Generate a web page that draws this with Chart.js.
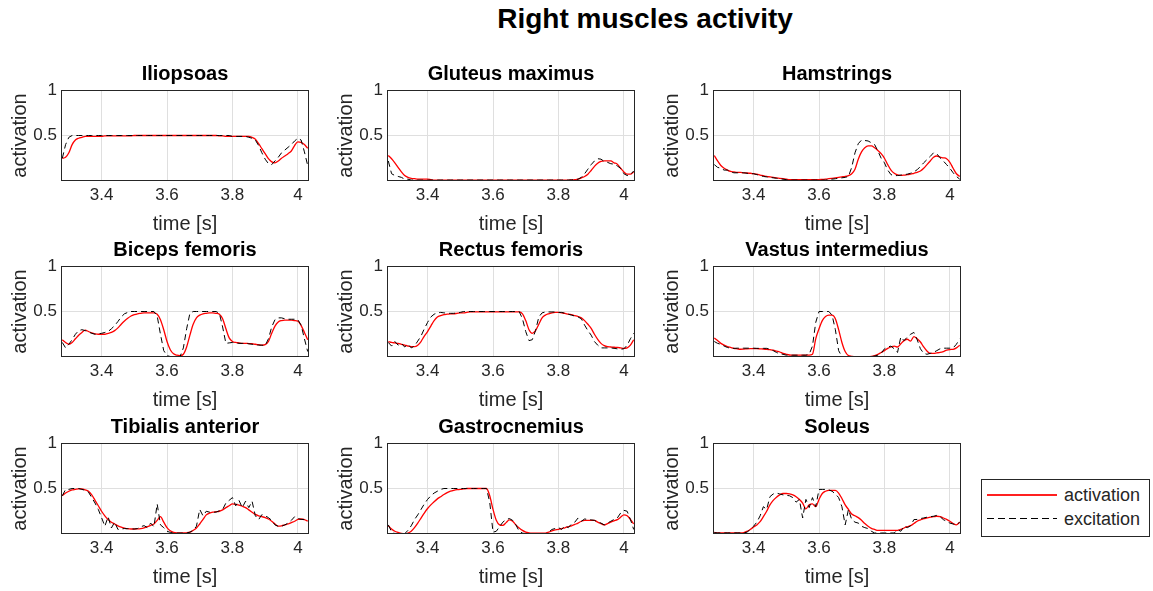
<!DOCTYPE html>
<html>
<head>
<meta charset="utf-8">
<title>Right muscles activity</title>
<script src="https://cdn.jsdelivr.net/npm/chart.js@4.4.0/dist/chart.umd.min.js"></script>
<style>
  html, body { margin: 0; padding: 0; background: #fff; }
  body { width: 1153px; height: 591px; position: relative; overflow: hidden; font-family: "Liberation Sans", Arial, sans-serif; }
  #titulo { position: absolute; left: 395px; width: 500px; top: 2px; text-align: center; font-size: 28px; font-weight: bold; color: #000; line-height: 34px; }
  .panel { position: absolute; display: block; }
  #leyenda { position: absolute; left: 981px; top: 479px; width: 169px; height: 58px; border: 1px solid #262626; box-sizing: border-box; background: #fff; }
  .muestra { position: absolute; left: 5px; width: 70px; }
  .texto { position: absolute; left: 82px; font-size: 18px; color: #262626; line-height: 20px; }
</style>
</head>
<body>
<div id="titulo">Right muscles activity</div>
<div id="graficos"></div>
<div id="leyenda">
  <div class="muestra" style="top: 14px; height: 2px; background: #ff2020;"></div>
  <div class="texto" style="top: 5px;">activation</div>
  <div class="muestra" style="top: 38px; height: 1px; background: repeating-linear-gradient(to right, #000 0 7px, transparent 7px 11px);"></div>
  <div class="texto" style="top: 29px;">excitation</div>
</div>

<script>
// tiempo de muestreo (s)
const tiempo = [
  3.28, 3.29, 3.30, 3.31, 3.32, 3.33, 3.34, 3.35, 3.36, 3.37,
  3.38, 3.39, 3.40, 3.41, 3.42, 3.43, 3.44, 3.45, 3.46, 3.47,
  3.48, 3.49, 3.50, 3.51, 3.52, 3.53, 3.54, 3.55, 3.56, 3.57,
  3.58, 3.59, 3.60, 3.61, 3.62, 3.63, 3.64, 3.65, 3.66, 3.67,
  3.68, 3.69, 3.70, 3.71, 3.72, 3.73, 3.74, 3.75, 3.76, 3.77,
  3.78, 3.79, 3.80, 3.81, 3.82, 3.83, 3.84, 3.85, 3.86, 3.87,
  3.88, 3.89, 3.90, 3.91, 3.92, 3.93, 3.94, 3.95, 3.96, 3.97,
  3.98, 3.99, 4.00, 4.01, 4.02, 4.03
];

const musculos = ["Iliopsoas", "Gluteus maximus", "Hamstrings",
                  "Biceps femoris", "Rectus femoris", "Vastus intermedius",
                  "Tibialis anterior", "Gastrocnemius", "Soleus"];

const ticksX = [3.4, 3.6, 3.8, 4];
const ticksY = [0.5, 1];

// activacion (rojo) y excitacion (negro discontinuo) por musculo
const actIliopsoas = [
  0.25, 0.26, 0.31, 0.40, 0.45, 0.47, 0.48, 0.49, 0.49, 0.49,
  0.49, 0.49, 0.49, 0.495, 0.495, 0.495, 0.495, 0.495, 0.495, 0.495,
  0.495, 0.495, 0.5, 0.5, 0.5, 0.5, 0.5, 0.5, 0.5, 0.5,
  0.5, 0.5, 0.5, 0.5, 0.5, 0.5, 0.5, 0.5, 0.5, 0.5,
  0.5, 0.5, 0.5, 0.5, 0.5, 0.5, 0.5, 0.5, 0.495, 0.495,
  0.49, 0.49, 0.49, 0.49, 0.49, 0.49, 0.49, 0.49, 0.48, 0.46,
  0.41, 0.355, 0.30, 0.245, 0.21, 0.20, 0.22, 0.25, 0.275, 0.30,
  0.33, 0.39, 0.43, 0.425, 0.40, 0.36
];
const excIliopsoas = [
  0.25, 0.40, 0.48, 0.50, 0.50, 0.50, 0.50, 0.50, 0.50, 0.50,
  0.5, 0.5, 0.5, 0.5, 0.5, 0.5, 0.5, 0.5, 0.5, 0.5,
  0.5, 0.5, 0.5, 0.5, 0.5, 0.5, 0.5, 0.5, 0.5, 0.5,
  0.5, 0.5, 0.5, 0.5, 0.5, 0.5, 0.5, 0.5, 0.5, 0.5,
  0.5, 0.5, 0.5, 0.5, 0.5, 0.5, 0.5, 0.5, 0.5, 0.5,
  0.5, 0.5, 0.49, 0.49, 0.49, 0.49, 0.49, 0.48, 0.47, 0.45,
  0.39, 0.31, 0.24, 0.19, 0.18, 0.22, 0.26, 0.31, 0.34, 0.37,
  0.40, 0.44, 0.47, 0.45, 0.32, 0.17
];

const actGluteus = [
  0.28, 0.245, 0.20, 0.15, 0.10, 0.06, 0.04, 0.03, 0.025, 0.02,
  0.02, 0.02, 0.02, 0.015, 0.01, 0.01, 0.01, 0.01, 0.01, 0.01,
  0.01, 0.01, 0.01, 0.01, 0.01, 0.01, 0.01, 0.01, 0.01, 0.01,
  0.01, 0.01, 0.01, 0.01, 0.01, 0.01, 0.01, 0.01, 0.01, 0.01,
  0.01, 0.01, 0.01, 0.01, 0.01, 0.01, 0.01, 0.01, 0.01, 0.01,
  0.01, 0.01, 0.01, 0.01, 0.01, 0.01, 0.012, 0.015, 0.02, 0.035,
  0.05, 0.075, 0.115, 0.16, 0.195, 0.215, 0.222, 0.222, 0.22, 0.20,
  0.185, 0.14, 0.10, 0.075, 0.075, 0.10
];
const excGluteus = [
  0.22, 0.08, 0.06, 0.05, 0.04, 0.02, 0.02, 0.01, 0.01, 0.01,
  0.01, 0.01, 0.01, 0.01, 0.01, 0.01, 0.01, 0.01, 0.01, 0.01,
  0.01, 0.01, 0.01, 0.01, 0.01, 0.01, 0.01, 0.01, 0.01, 0.01,
  0.01, 0.01, 0.01, 0.01, 0.01, 0.01, 0.01, 0.01, 0.01, 0.01,
  0.01, 0.01, 0.01, 0.01, 0.01, 0.01, 0.01, 0.01, 0.01, 0.01,
  0.01, 0.01, 0.01, 0.01, 0.01, 0.01, 0.012, 0.015, 0.02, 0.04,
  0.08, 0.13, 0.18, 0.22, 0.245, 0.24, 0.215, 0.205, 0.19, 0.185,
  0.165, 0.14, 0.08, 0.06, 0.07, 0.11
];

const actHamstrings = [
  0.28, 0.22, 0.17, 0.14, 0.12, 0.105, 0.10, 0.095, 0.095, 0.09,
  0.088, 0.085, 0.08, 0.075, 0.065, 0.058, 0.05, 0.045, 0.04, 0.035,
  0.03, 0.025, 0.02, 0.015, 0.015, 0.015, 0.015, 0.015, 0.015, 0.015,
  0.015, 0.015, 0.015, 0.018, 0.02, 0.025, 0.03, 0.035, 0.04, 0.045,
  0.05, 0.06, 0.08, 0.13, 0.24, 0.32, 0.365, 0.385, 0.385, 0.365,
  0.335, 0.30, 0.25, 0.18, 0.12, 0.085, 0.068, 0.062, 0.065, 0.07,
  0.075, 0.085, 0.095, 0.11, 0.14, 0.18, 0.22, 0.26, 0.275, 0.262,
  0.255, 0.245, 0.205, 0.14, 0.08, 0.05
];
const excHamstrings = [
  0.18, 0.15, 0.14, 0.12, 0.12, 0.10, 0.09, 0.09, 0.09, 0.09,
  0.085, 0.08, 0.08, 0.07, 0.06, 0.05, 0.045, 0.04, 0.035, 0.03,
  0.025, 0.02, 0.015, 0.01, 0.01, 0.01, 0.01, 0.01, 0.01, 0.01,
  0.01, 0.01, 0.01, 0.01, 0.01, 0.015, 0.02, 0.025, 0.03, 0.035,
  0.04, 0.05, 0.15, 0.31, 0.41, 0.45, 0.445, 0.44, 0.42, 0.40,
  0.33, 0.25, 0.20, 0.12, 0.07, 0.058, 0.06, 0.065, 0.07, 0.075,
  0.085, 0.10, 0.124, 0.16, 0.20, 0.235, 0.27, 0.31, 0.30, 0.255,
  0.22, 0.18, 0.14, 0.09, 0.05, 0.02
];

const actBiceps = [
  0.19, 0.16, 0.14, 0.16, 0.20, 0.24, 0.27, 0.295, 0.28, 0.265,
  0.255, 0.25, 0.25, 0.25, 0.26, 0.27, 0.29, 0.32, 0.36, 0.395,
  0.425, 0.45, 0.465, 0.475, 0.48, 0.485, 0.485, 0.485, 0.485, 0.47,
  0.41, 0.30, 0.17, 0.08, 0.035, 0.02, 0.015, 0.03, 0.11, 0.24,
  0.36, 0.43, 0.46, 0.475, 0.48, 0.485, 0.485, 0.48, 0.47, 0.42,
  0.31, 0.21, 0.17, 0.16, 0.155, 0.15, 0.15, 0.148, 0.146, 0.14,
  0.135, 0.13, 0.135, 0.17, 0.26, 0.34, 0.385, 0.40, 0.405, 0.405,
  0.405, 0.40, 0.395, 0.345, 0.27, 0.19
];
const excBiceps = [
  0.16, 0.10, 0.14, 0.19, 0.25, 0.29, 0.30, 0.29, 0.275, 0.26,
  0.25, 0.255, 0.26, 0.27, 0.28, 0.31, 0.345, 0.39, 0.44, 0.475,
  0.49, 0.5, 0.5, 0.5, 0.5, 0.5, 0.5, 0.5, 0.5, 0.45,
  0.25, 0.07, 0.015, 0.005, 0.005, 0.005, 0.005, 0.10, 0.31, 0.48,
  0.5, 0.5, 0.5, 0.5, 0.5, 0.5, 0.5, 0.5, 0.48, 0.33,
  0.15, 0.155, 0.16, 0.155, 0.15, 0.15, 0.15, 0.145, 0.14, 0.135,
  0.13, 0.13, 0.125, 0.20, 0.33, 0.41, 0.43, 0.43, 0.42, 0.415,
  0.415, 0.415, 0.41, 0.35, 0.20, 0.06
];

const actRectus = [
  0.17, 0.16, 0.155, 0.15, 0.14, 0.13, 0.12, 0.115, 0.115, 0.13,
  0.17, 0.23, 0.28, 0.34, 0.40, 0.44, 0.455, 0.465, 0.47, 0.475,
  0.475, 0.48, 0.485, 0.485, 0.49, 0.495, 0.495, 0.495, 0.495, 0.495,
  0.495, 0.495, 0.495, 0.495, 0.495, 0.495, 0.495, 0.495, 0.495, 0.495,
  0.495, 0.475, 0.40, 0.30, 0.26, 0.29, 0.36, 0.43, 0.46, 0.475,
  0.485, 0.49, 0.49, 0.485, 0.48, 0.47, 0.465, 0.455, 0.445, 0.43,
  0.40, 0.36, 0.315, 0.25, 0.195, 0.15, 0.125, 0.113, 0.11, 0.107,
  0.105, 0.10, 0.095, 0.10, 0.13, 0.19
];
const excRectus = [
  0.16, 0.12, 0.17, 0.13, 0.15, 0.11, 0.14, 0.10, 0.12, 0.175,
  0.23, 0.31, 0.38, 0.44, 0.47, 0.485, 0.49, 0.485, 0.48, 0.48,
  0.48, 0.485, 0.49, 0.5, 0.5, 0.5, 0.5, 0.5, 0.5, 0.5,
  0.5, 0.5, 0.5, 0.5, 0.5, 0.5, 0.5, 0.5, 0.5, 0.5,
  0.5, 0.42, 0.28, 0.18, 0.19, 0.29, 0.44, 0.485, 0.495, 0.495,
  0.495, 0.495, 0.49, 0.49, 0.48, 0.47, 0.46, 0.45, 0.44, 0.42,
  0.35, 0.29, 0.24, 0.17, 0.13, 0.10, 0.10, 0.10, 0.10, 0.095,
  0.09, 0.085, 0.09, 0.13, 0.20, 0.26
];

const actVastus = [
  0.21, 0.18, 0.15, 0.13, 0.115, 0.105, 0.095, 0.09, 0.085, 0.087,
  0.09, 0.092, 0.093, 0.092, 0.09, 0.088, 0.085, 0.08, 0.075, 0.065,
  0.055, 0.04, 0.03, 0.022, 0.02, 0.02, 0.02, 0.02, 0.02, 0.02,
  0.03, 0.2, 0.31, 0.40, 0.445, 0.46, 0.46, 0.42, 0.30, 0.16,
  0.06, 0.015, 0.008, 0.005, 0.005, 0.005, 0.005, 0.005, 0.007, 0.015,
  0.03, 0.05, 0.07, 0.095, 0.11, 0.12, 0.11, 0.145, 0.18, 0.195,
  0.175, 0.225, 0.20, 0.165, 0.11, 0.065, 0.04, 0.04, 0.045, 0.05,
  0.06, 0.075, 0.082, 0.085, 0.10, 0.13
];
const excVastus = [
  0.17, 0.15, 0.14, 0.12, 0.105, 0.095, 0.095, 0.097, 0.097, 0.097,
  0.097, 0.097, 0.097, 0.095, 0.095, 0.095, 0.095, 0.085, 0.07, 0.05,
  0.035, 0.03, 0.02, 0.02, 0.02, 0.02, 0.02, 0.02, 0.02, 0.03,
  0.12, 0.38, 0.5, 0.5, 0.5, 0.5, 0.46, 0.30, 0.07, 0.005,
  0.003, 0.003, 0.003, 0.003, 0.003, 0.003, 0.003, 0.003, 0.005, 0.01,
  0.02, 0.04, 0.09, 0.11, 0.12, 0.09, 0.05, 0.22, 0.18, 0.22,
  0.25, 0.27, 0.19, 0.09, 0.04, 0.03, 0.04, 0.05, 0.07, 0.09,
  0.097, 0.097, 0.097, 0.10, 0.14, 0.20
];

const actTibialis = [
  0.42, 0.45, 0.47, 0.485, 0.49, 0.495, 0.495, 0.485, 0.47, 0.43,
  0.37, 0.31, 0.25, 0.20, 0.16, 0.13, 0.11, 0.09, 0.075, 0.065,
  0.058, 0.055, 0.055, 0.056, 0.06, 0.068, 0.08, 0.095, 0.11, 0.15,
  0.19, 0.13, 0.07, 0.035, 0.018, 0.012, 0.011, 0.011, 0.013, 0.02,
  0.04, 0.066, 0.11, 0.16, 0.21, 0.23, 0.24, 0.245, 0.25, 0.265,
  0.29, 0.31, 0.33, 0.325, 0.316, 0.305, 0.29, 0.265, 0.24, 0.215,
  0.20, 0.19, 0.18, 0.165, 0.14, 0.11, 0.087, 0.09, 0.10, 0.11,
  0.125, 0.14, 0.16, 0.165, 0.158, 0.14
];
const excTibialis = [
  0.42, 0.49, 0.49, 0.5, 0.5, 0.5, 0.49, 0.48, 0.46, 0.40,
  0.34, 0.27, 0.18, 0.085, 0.19, 0.066, 0.13, 0.05, 0.055, 0.06,
  0.058, 0.055, 0.055, 0.06, 0.08, 0.092, 0.07, 0.12, 0.08, 0.33,
  0.10, 0.07, 0.03, 0.018, 0.01, 0.01, 0.01, 0.01, 0.01, 0.02,
  0.04, 0.085, 0.27, 0.20, 0.25, 0.24, 0.24, 0.24, 0.255, 0.27,
  0.34, 0.37, 0.40, 0.31, 0.37, 0.29, 0.36, 0.29, 0.36, 0.20,
  0.158, 0.213, 0.20, 0.18, 0.15, 0.10, 0.085, 0.085, 0.10, 0.12,
  0.15, 0.19, 0.17, 0.16, 0.16, 0.165
];

const actGastroc = [
  0.09, 0.055, 0.03, 0.018, 0.008, 0.004, 0.01, 0.03, 0.07, 0.12,
  0.175, 0.23, 0.28, 0.32, 0.355, 0.386, 0.41, 0.434, 0.455, 0.47,
  0.48, 0.487, 0.49, 0.495, 0.5, 0.5, 0.5, 0.5, 0.5, 0.5,
  0.5, 0.42, 0.27, 0.15, 0.10, 0.095, 0.125, 0.155, 0.14, 0.10,
  0.066, 0.04, 0.02, 0.012, 0.01, 0.01, 0.01, 0.01, 0.01, 0.02,
  0.035, 0.045, 0.05, 0.06, 0.068, 0.08, 0.09, 0.105, 0.12, 0.14,
  0.15, 0.15, 0.15, 0.15, 0.13, 0.115, 0.10, 0.115, 0.13, 0.145,
  0.158, 0.185, 0.21, 0.20, 0.16, 0.11
];
const excGastroc = [
  0.10, 0.025, 0.005, 0.003, 0.003, 0.003, 0.04, 0.09, 0.158, 0.21,
  0.27, 0.33, 0.38, 0.42, 0.45, 0.47, 0.49, 0.5, 0.5, 0.5,
  0.5, 0.5, 0.5, 0.5, 0.5, 0.5, 0.5, 0.5, 0.5, 0.5,
  0.5, 0.35, 0.02, 0.03, 0.08, 0.13, 0.158, 0.17, 0.15, 0.10,
  0.03, 0.01, 0.003, 0.003, 0.003, 0.003, 0.003, 0.003, 0.003, 0.02,
  0.05, 0.06, 0.07, 0.05, 0.09, 0.07, 0.11, 0.13, 0.176, 0.14,
  0.165, 0.16, 0.155, 0.15, 0.13, 0.12, 0.10, 0.12, 0.14, 0.16,
  0.176, 0.23, 0.26, 0.25, 0.16, 0.05
];

const actSoleus = [
  0.018, 0.012, 0.012, 0.012, 0.012, 0.012, 0.012, 0.012, 0.012, 0.015,
  0.03, 0.05, 0.077, 0.10, 0.135, 0.19, 0.25, 0.32, 0.37, 0.405,
  0.43, 0.445, 0.445, 0.44, 0.43, 0.41, 0.38, 0.34, 0.276, 0.32,
  0.33, 0.30, 0.38, 0.445, 0.47, 0.48, 0.48, 0.48, 0.45, 0.39,
  0.32, 0.27, 0.22, 0.20, 0.18, 0.15, 0.115, 0.085, 0.062, 0.05,
  0.04, 0.04, 0.04, 0.04, 0.04, 0.04, 0.04, 0.05, 0.066, 0.08,
  0.092, 0.115, 0.14, 0.155, 0.168, 0.176, 0.185, 0.19, 0.195, 0.19,
  0.176, 0.16, 0.14, 0.115, 0.10, 0.13
];
const excSoleus = [
  0.015, 0.012, 0.012, 0.012, 0.012, 0.012, 0.012, 0.012, 0.012, 0.012,
  0.02, 0.05, 0.085, 0.13, 0.20, 0.30, 0.27, 0.41, 0.44, 0.45,
  0.44, 0.43, 0.425, 0.42, 0.40, 0.35, 0.38, 0.176, 0.38, 0.29,
  0.40, 0.30, 0.49, 0.49, 0.49, 0.485, 0.47, 0.44, 0.40, 0.30,
  0.10, 0.27, 0.158, 0.13, 0.12, 0.085, 0.07, 0.06, 0.03, 0.011,
  0.011, 0.011, 0.011, 0.011, 0.011, 0.011, 0.048, 0.03, 0.085, 0.07,
  0.09, 0.158, 0.16, 0.17, 0.176, 0.185, 0.19, 0.195, 0.205, 0.19,
  0.158, 0.14, 0.12, 0.11, 0.10, 0.13
];

const activaciones = [actIliopsoas, actGluteus, actHamstrings, actBiceps, actRectus,
                      actVastus, actTibialis, actGastroc, actSoleus];
const excitaciones = [excIliopsoas, excGluteus, excHamstrings, excBiceps, excRectus,
                      excVastus, excTibialis, excGastroc, excSoleus];

// posicion de cada eje en la pagina
const ejeIzq = [61, 387, 713];
const ejeSup = [90, 266, 443];
const anchoEje = 248;
const altoEje = 91;
const margenIzq = 61;   // sitio para "activation" y las etiquetas del eje y
const margenSup = 40;   // sitio para el titulo de cada musculo
const margenInf = 56;   // etiquetas del eje x y "time [s]"
const margenDer = 61;   // eje derecho vacio del mismo ancho, asi el titulo queda centrado

const fuente = '"Liberation Sans", Arial, sans-serif';
const gris = '#262626';

// recuadro completo alrededor de cada eje
const marco = {
  id: 'marco',
  afterDatasetsDraw(chart) {
    const { ctx, chartArea: a } = chart;
    ctx.save();
    ctx.strokeStyle = gris;
    ctx.lineWidth = 1;
    ctx.strokeRect(a.left + 0.5, a.top + 0.5, a.width - 1, a.height - 1);
    ctx.restore();
  }
};

const contenedor = document.getElementById('graficos');

musculos.forEach(function (nombre, i) {
  const fila = Math.floor(i / 3);
  const col = i % 3;

  const canvas = document.createElement('canvas');
  canvas.className = 'panel';
  canvas.width = margenIzq + anchoEje + margenDer;
  canvas.height = margenSup + altoEje + margenInf;
  canvas.style.left = (ejeIzq[col] - margenIzq) + 'px';
  canvas.style.top = (ejeSup[fila] - margenSup) + 'px';
  contenedor.appendChild(canvas);

  new Chart(canvas.getContext('2d'), {
    type: 'line',
    data: {
      labels: tiempo,
      datasets: [
        {
          label: 'excitation',
          data: excitaciones[i],
          borderColor: '#000000',
          borderWidth: 1,
          borderDash: [6, 4],
          pointRadius: 0,
          tension: 0,
          order: 0
        },
        {
          label: 'activation',
          data: activaciones[i],
          borderColor: '#ff0000',
          borderWidth: 1.3,
          pointRadius: 0,
          cubicInterpolationMode: 'monotone',
          order: 1
        }
      ]
    },
    options: {
      responsive: false,
      animation: false,
      events: [],
      layout: { autoPadding: false },
      plugins: {
        legend: { display: false },
        tooltip: { enabled: false },
        title: {
          display: true,
          text: nombre,
          color: '#000000',
          font: { family: fuente, size: 20, weight: 'bold' },
          padding: { top: 12, bottom: 4 }
        }
      },
      scales: {
        x: {
          type: 'linear',
          min: 3.276,
          max: 4.034,
          afterBuildTicks: function (s) { s.ticks = ticksX.map(v => ({ value: v })); },
          afterFit: function (s) { s.height = margenInf; },
          ticks: {
            color: gris,
            font: { family: fuente, size: 17 },
            padding: 4,
            maxRotation: 0,
            autoSkip: false,
            callback: v => String(v)
          },
          grid: { color: '#dfdfdf', drawTicks: false },
          border: { display: false },
          title: {
            display: true,
            text: 'time [s]',
            color: gris,
            font: { family: fuente, size: 20 },
            padding: { top: 0, bottom: 1 }
          }
        },
        y: {
          min: 0,
          max: 1,
          afterBuildTicks: function (s) { s.ticks = ticksY.map(v => ({ value: v })); },
          afterFit: function (s) { s.width = margenIzq; },
          ticks: {
            color: gris,
            font: { family: fuente, size: 17 },
            padding: 4,
            autoSkip: false,
            callback: v => String(v)
          },
          grid: { color: '#dfdfdf', drawTicks: false },
          border: { display: false },
          title: {
            display: true,
            text: 'activation',
            color: gris,
            font: { family: fuente, size: 20 },
            padding: { top: 8, bottom: 0 }
          }
        },
        yDer: {
          position: 'right',
          min: 0,
          max: 1,
          afterFit: function (s) { s.width = margenDer; },
          ticks: { display: false },
          grid: { display: false },
          border: { display: false }
        }
      }
    },
    plugins: [marco]
  });
});
</script>
</body>
</html>
